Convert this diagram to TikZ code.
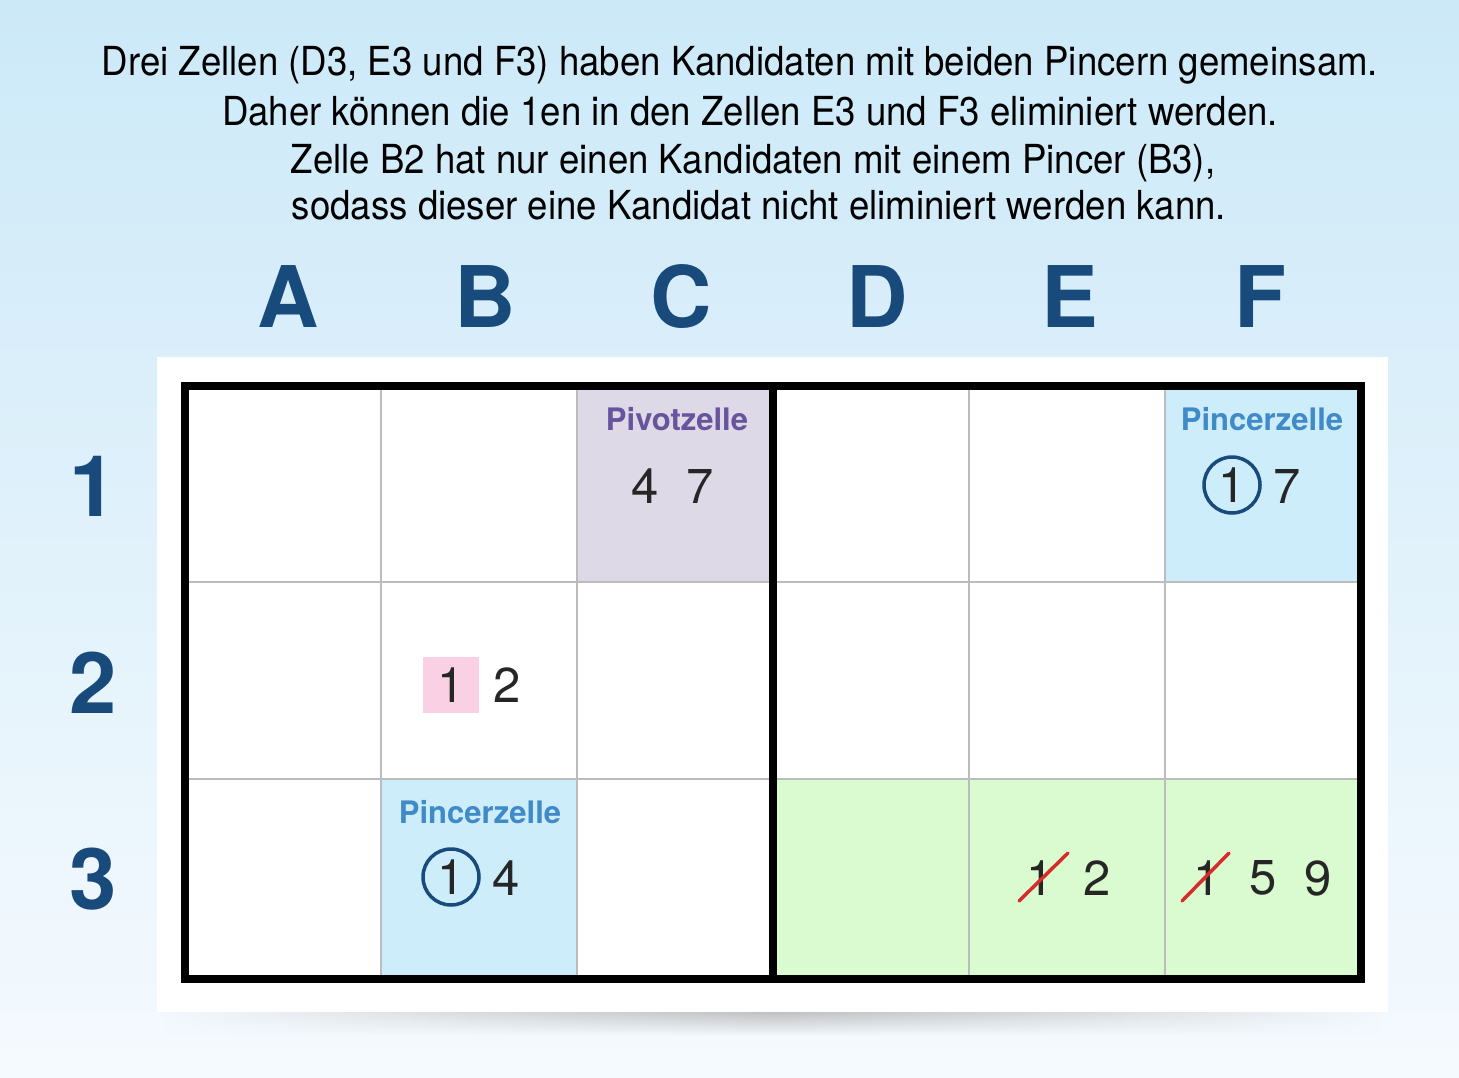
\documentclass[tikz,border=0pt]{standalone}
\usepackage{fontspec}
\setmainfont{TeX Gyre Heros}
\newfontfamily\narrowheros{TeX Gyre Heros}[FakeStretch=0.915]
\usetikzlibrary{positioning, fadings}
\definecolor{bgtop}{RGB}{204,233,248}
\definecolor{bgbot}{RGB}{245,250,254}
\definecolor{labblue}{RGB}{24,74,124}
\definecolor{pivbg}{RGB}{221,217,231}
\definecolor{pivtext}{RGB}{104,84,156}
\definecolor{pinbg}{RGB}{206,237,251}
\definecolor{pintext}{RGB}{64,138,200}
\definecolor{grnbg}{RGB}{218,250,208}
\definecolor{pinkbg}{RGB}{250,208,228}
\definecolor{gridgray}{RGB}{188,188,188}
\definecolor{strikered}{RGB}{214,44,44}
\tikzfading[name=sidefade, left color=transparent!100, right color=transparent!100, middle color=transparent!0]
\tikzset{
	headline/.style={font=\narrowheros\fontsize{40}{40}\selectfont, anchor=base, inner sep=0},
	collab/.style={font=\fontsize{85}{85}\selectfont\bfseries, text=labblue},
	cand/.style={font=\fontsize{49}{49}\selectfont, text=black!85, inner sep=0},
	celltag/.style={font=\fontsize{31}{31}\selectfont\bfseries},
	ring/.style={draw=labblue, line width=3.5, circle, minimum size=56, inner sep=0},
	strike/.style={draw=strikered, line width=3.5, line cap=round}
}

\begin{document}
\begin{tikzpicture}[x=1pt, y=-1pt]
	\useasboundingbox (0, 0) rectangle (1459, 1078);
	\shade (0, 0) rectangle (1459, 1078) [top color=bgtop, bottom color=bgbot];
	\node (line1) [headline] at (740, 76) {Drei Zellen (D3, E3 und F3) haben Kandidaten mit beiden Pincern gemeinsam.};
	\node (line2) [headline] at (750, 126) {Daher können die 1en in den Zellen E3 und F3 eliminiert werden.};
	\node (line3) [headline] at (753, 174) {Zelle B2 hat nur einen Kandidaten mit einem Pincer (B3),};
	\node (line4) [headline] at (759, 220) {sodass dieser eine Kandidat nicht eliminiert werden kann.};
	\foreach \l/\x in {A/288, B/485, C/681, D/877, E/1070, F/1260}
		\node (col\l) [collab] at (\x, 297) {\l};
	\foreach \r/\y in {1/486, 2/683, 3/879}
		\node (row\r) [collab] at (93, \y) {\r};
	% panel and its shadow
	\shade (165, 1006) rectangle (1385, 1036) [top color=black!30, bottom color=bgbot, path fading=sidefade];
	\fill (157, 357) rectangle (1388, 1012) [white];
	\fill (577, 386) rectangle (773, 582) [pivbg];
	\fill (1165, 386) rectangle (1361, 582) [pinbg];
	\fill (381, 779) rectangle (577, 979) [pinbg];
	\fill (773, 779) rectangle (1361, 979) [grnbg];
	\fill (423, 657) rectangle (479, 713) [pinkbg];
	\foreach \x in {381, 577, 969, 1165}
		\draw (\x, 386)--(\x, 979) [gridgray, line width=2];
	\foreach \y in {582, 779}
		\draw (185, \y)--(1361, \y) [gridgray, line width=2];
	\draw (773, 386)--(773, 979) [line width=8];
	\draw (185, 386) rectangle (1361, 979) [line width=8];
	% C1
	\node (pivtag) [celltag, text=pivtext] at (677, 419) {Pivotzelle};
	\node (piv4) [cand] at (645, 486) {4};
	\node (piv7) [cand] at (700, 486) {7};
	% F1
	\node (f1tag) [celltag, text=pintext] at (1262, 419) {Pincerzelle};
	\node (f1one) [cand] at (1232, 485) {1};
	\node (f1ring) [ring] at (1232, 485) {};
	\node (f1seven) [cand] at (1287, 486) {7};
	% B2
	\node (b2one) [cand] at (451, 685) {1};
	\node (b2two) [cand] at (507, 685) {2};
	% B3
	\node (b3tag) [celltag, text=pintext] at (480, 812) {Pincerzelle};
	\node (b3one) [cand] at (451, 877) {1};
	\node (b3ring) [ring] at (451, 877) {};
	\node (b3four) [cand] at (506, 878) {4};
	% E3 and F3
	\node (e3one) [cand] at (1040, 878) {1};
	\node (e3two) [cand] at (1097, 878) {2};
	\node (f3one) [cand] at (1207, 878) {1};
	\node (f3five) [cand] at (1263, 878) {5};
	\node (f3nine) [cand] at (1318, 878) {9};
	\coordinate (e3from) at (1019, 901);
	\coordinate (e3to) at (1068, 853);
	\coordinate (f3from) at (1182, 901);
	\coordinate (f3to) at (1229, 853);
	\draw (e3from)--(e3to) [strike];
	\draw (f3from)--(f3to) [strike];
\end{tikzpicture}
\end{document}
